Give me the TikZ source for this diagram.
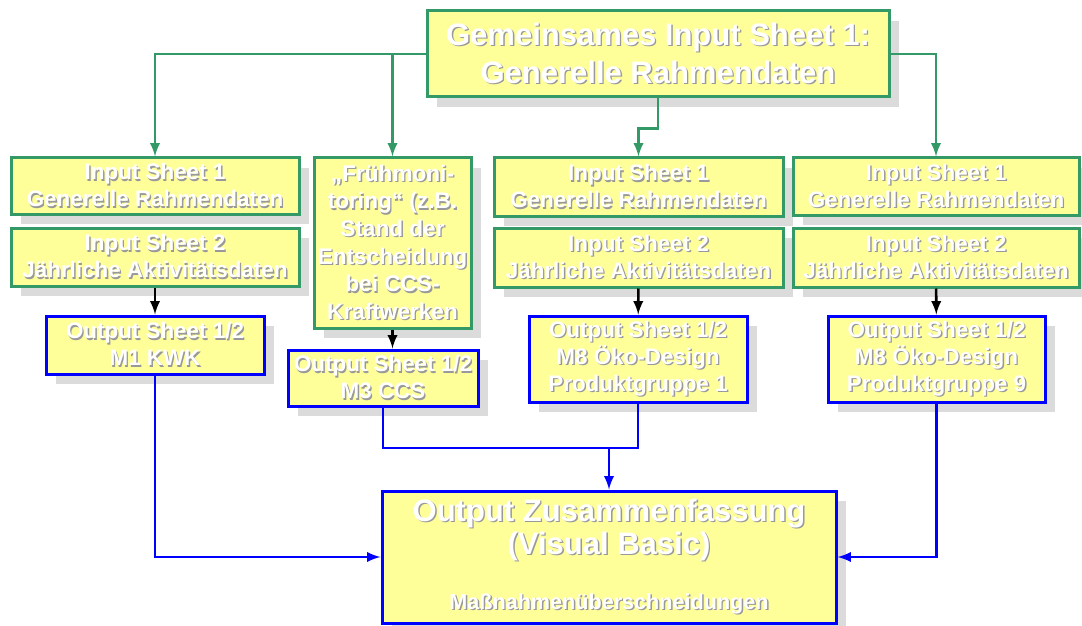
\documentclass[tikz,border=0pt]{standalone}
\usepackage{fontspec}
\setmainfont{Liberation Sans}
\usepackage{tikz}
\usetikzlibrary{arrows,shadows,calc}
\definecolor{boxgelb}{RGB}{255,255,153}
\definecolor{boxgruen}{RGB}{51,153,102}
\definecolor{boxblau}{RGB}{0,0,255}
\newcommand\wt[1]{\leavevmode\rlap{\textcolor{black!40}{\hspace{0.7pt}\raisebox{-0.7pt}{#1}}}#1}

\begin{document}
\begin{tikzpicture}[x=0.5pt,y=-0.5pt,
	kasten/.style={fill=boxgelb,text=white,align=center,inner sep=1pt,
		font=\bfseries\fontsize{11.2}{13.5}\selectfont,
		drop shadow={shadow xshift=5pt,shadow yshift=-5pt,fill=black!14,opacity=1}},
	gbox/.style={kasten,draw=boxgruen,line width=1.5pt},
	bbox/.style={kasten,draw=boxblau,line width=1.5pt},
	gline/.style={draw=boxgruen,line width=1.3pt,-latex},
	bline/.style={draw=boxblau,line width=1.3pt,-latex},
	kline/.style={draw=black,line width=1.3pt,-latex}]
	\useasboundingbox (0,0) rectangle (1082,626);
	% oberer Kasten
	\node[gbox,minimum width=231pt,minimum height=43pt,
		font=\bfseries\fontsize{15.5}{19}\selectfont] (top) at (658,54)
		{\wt{Gemeinsames Input Sheet 1:}\\\wt{Generelle Rahmendaten}};
	% Spalte 1
	\node[gbox,minimum width=144pt,minimum height=28pt] (is1a) at (155,186)
		{\wt{Input Sheet 1}\\\wt{Generelle Rahmendaten}};
	\node[gbox,minimum width=144pt,minimum height=29pt] (is2a) at (155,257)
		{\wt{Input Sheet 2}\\\wt{Jährliche Aktivitätsdaten}};
	\node[bbox,minimum width=109pt,minimum height=29pt] (out1) at (155,345)
		{\wt{Output Sheet 1/2}\\\wt{M1 KWK}};
	% Spalte 2
	\node[gbox,minimum width=78.5pt,minimum height=85pt,
		font=\bfseries\fontsize{11.3}{13.8}\selectfont] (fruh) at (392.5,243)
		{\wt{„Frühmoni-}\\\wt{toring“ (z.B.}\\\wt{Stand der}\\\wt{Entscheidung}\\\wt{bei CCS-}\\\wt{Kraftwerken}};
	\node[bbox,minimum width=95pt,minimum height=28pt] (out2) at (383,378)
		{\wt{Output Sheet 1/2}\\\wt{M3 CCS}};
	% Spalte 3
	\node[gbox,minimum width=144.5pt,minimum height=29pt] (is1c) at (638.5,187)
		{\wt{Input Sheet 1}\\\wt{Generelle Rahmendaten}};
	\node[gbox,minimum width=144.5pt,minimum height=29.5pt] (is2c) at (638.5,257.5)
		{\wt{Input Sheet 2}\\\wt{Jährliche Aktivitätsdaten}};
	\node[bbox,minimum width=109pt,minimum height=43pt] (out3) at (638,359)
		{\wt{Output Sheet 1/2}\\\wt{M8 Öko-Design}\\\wt{Produktgruppe 1}};
	% Spalte 4
	\node[gbox,minimum width=143pt,minimum height=28.5pt] (is1d) at (936,186.5)
		{\wt{Input Sheet 1}\\\wt{Generelle Rahmendaten}};
	\node[gbox,minimum width=143pt,minimum height=29.5pt] (is2d) at (936,257.5)
		{\wt{Input Sheet 2}\\\wt{Jährliche Aktivitätsdaten}};
	\node[bbox,minimum width=108.5pt,minimum height=43pt] (out4) at (936.5,359)
		{\wt{Output Sheet 1/2}\\\wt{M8 Öko-Design}\\\wt{Produktgruppe 9}};
	% Zusammenfassung
	\node[bbox,minimum width=227pt,minimum height=66pt,
		font=\bfseries\fontsize{15.5}{16.5}\selectfont] (sum) at (609,557)
		{\wt{Output Zusammenfassung}\\\wt{(Visual Basic)}\\[11pt]
		{\fontsize{10.8}{12}\selectfont\wt{Maßnahmenüberschneidungen}}};
	% Verbindungen
	\draw[gline] (top.west) -| (is1a.north);
	\draw[gline] (fruh.north |- top.west) -- (fruh.north);
	\draw[gline] (top.south) -- ++(0,30) -| (is1c.north);
	\draw[gline] (top.east) -| (is1d.north);
	\draw[kline] (is2a) -- (out1);
	\draw[kline] (fruh.south) -- (fruh.south |- out2.north);
	\draw[kline] (is2c) -- (out3);
	\draw[kline] (is2d) -- (out4);
	\coordinate (mrg) at (sum.north |- 0,448);
	\draw[bline,-] (out2.south) |- (out3.south |- mrg) -- (out3.south);
	\draw[bline] (mrg) -- (sum.north);
	\draw[bline] (out1.south) |- (sum.west);
	\draw[bline] (out4.south) |- (sum.east);
\end{tikzpicture}
\end{document}
